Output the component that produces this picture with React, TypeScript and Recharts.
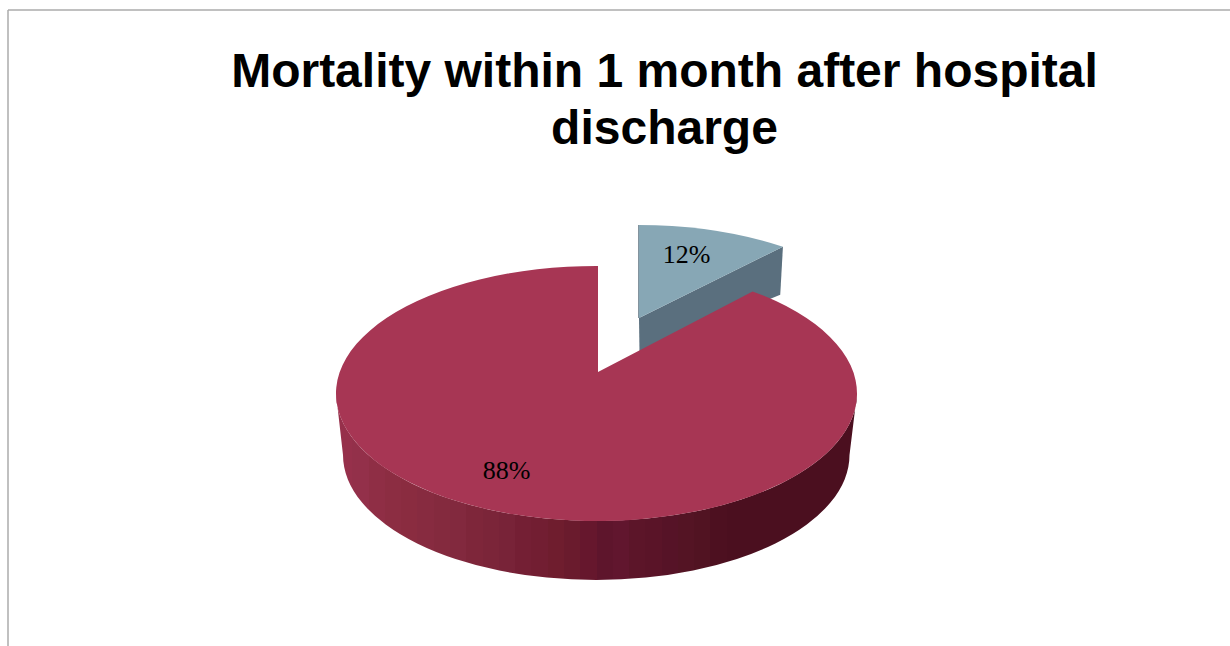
import React from "react";
import { PieChart, Pie } from "recharts";

const categories = ["Died within 1 month", "Survived"];
const percentages = [12, 88];
const titleLines = ["Mortality within 1 month after hospital", "discharge"];

const chartData = categories.map((name, i) => ({ name, value: percentages[i] }));

const RY_RATIO = 127.5 / 260.5;
const looks = [
  { top: "#87A7B5", side: "#5A6F7E", ox: 41, oy: -41, ax: 1.5, ay: -34.5, k: 0.465, labelFrac: 0.72, ndx: -6, ndy: -1 },
  { top: "#A73654", side: "url(#mainSide)", ox: 0, oy: 0, ax: 1.5, ay: -21.5, k: RY_RATIO, labelFrac: 0.76, ndx: -7, ndy: -6 },
];

const bandColors = [
  "#96304B", "#93304A", "#8F2E45", "#8C2D42", "#8A2C40", "#872B40", "#842A3E", "#82293E",
  "#7E263A", "#7B2539", "#782338", "#741F34", "#721E32", "#6F1D2E", "#6A1B2D", "#66172D",
  "#5E152C", "#61162E", "#5C1529", "#5A1428", "#561327", "#541424", "#511322", "#4D1020",
  "#4B0F1F", "#4B0F1F", "#4B0F1F", "#4B0F1F", "#4B0F1F", "#4B0F1F", "#4B0F1F", "#4B0F1F",
];

function ray(C: any, a: number, k: number, rx: number, ry: number, deg: number, A: any) {
  const rad = (deg * Math.PI) / 180;
  const dx = Math.cos(rad);
  const dy = -k * Math.sin(rad);
  const fx = (A.x - C.x) / rx;
  const fy = (A.y - C.y) / ry;
  const gx = dx / rx;
  const gy = dy / ry;
  const aa = gx * gx + gy * gy;
  const bb = 2 * (fx * gx + fy * gy);
  const cc = fx * fx + fy * fy - 1;
  const t = (-bb + Math.sqrt(bb * bb - 4 * aa * cc)) / (2 * aa);
  return { x: A.x + t * dx, y: A.y + t * dy, t, dx, dy };
}

function geometry(cx: number, cy: number, r: number, i: number) {
  const look = looks[i];
  const C = { x: cx + look.ox, y: cy + look.oy };
  const A = { x: C.x + look.ax, y: C.y + look.ay };
  return { look, C, A, rx: r, ry: r * RY_RATIO };
}

function Slice3D(props: any) {
  const { cx, cy, outerRadius, startAngle, endAngle, payload, name } = props;
  const label = name ?? payload?.name;
  const i = categories.indexOf(label);
  const { look, C, A, rx, ry } = geometry(cx, cy, outerRadius, i);
  const p0 = ray(C, 0, look.k, rx, ry, startAngle, A);
  const p1 = ray(C, 0, look.k, rx, ry, endAngle, A);
  const large = Math.abs(endAngle - startAngle) > 180 ? 1 : 0;
  const topPath = `M${A.x},${A.y} L${p0.x},${p0.y} A${rx},${ry} 0 ${large} 1 ${p1.x},${p1.y} Z`;
  let side: string;
  if (i === 0) {
    side = `M${p1.x},${p1.y} L${A.x},${A.y} L${A.x + 0.5},${A.y + 35} L${p1.x - 2.7},${p1.y + 48} Z`;
  } else {
    const lx = C.x - rx;
    const rxp = C.x + rx;
    side = `M${lx},${C.y} L${lx + 7},${C.y + 61.5} A253.25,125 0 0 0 ${rxp - 7.5},${C.y + 61.5} L${rxp},${C.y} A${rx},${ry} 0 0 1 ${lx},${C.y} Z`;
  }
  return (
    <g>
      <path d={side} fill={look.side} />
      {i === 0 && <path d={`M${A.x},${A.y} L${p0.x},${p0.y}`} stroke={look.side} strokeWidth={1.5} fill="none" />}
      <path d={topPath} fill={look.top} />
    </g>
  );
}

function SliceLabel(props: any) {
  const { cx, cy, outerRadius, midAngle, payload, name } = props;
  const label = name ?? payload?.name;
  const i = categories.indexOf(label);
  const { look, C, A, rx, ry } = geometry(cx, cy, outerRadius, i);
  const p = ray(C, 0, look.k, rx, ry, midAngle, A);
  const x = A.x + p.dx * p.t * look.labelFrac + look.ndx;
  const y = A.y + p.dy * p.t * look.labelFrac + look.ndy;
  return (
    <text x={x} y={y} textAnchor="middle" dominantBaseline="central" fontFamily="Liberation Serif" fontSize={26} fill="#000">
      {`${percentages[i]}%`}
    </text>
  );
}

export default function App() {
  return (
    <div style={{ position: "absolute", left: 0, top: 0, width: 1230, height: 646, overflow: "hidden", background: "#fff" }}>
      <PieChart width={1230} height={646} margin={{ top: 0, right: 0, bottom: 0, left: 0 }}>
        <defs>
          <linearGradient id="mainSide" gradientUnits="userSpaceOnUse" x1={336} x2={857} y1={0} y2={0}>
            {bandColors.flatMap((c, i) => [
              <stop key={`${i}a`} offset={i / bandColors.length} stopColor={c} />,
              <stop key={`${i}b`} offset={(i + 1) / bandColors.length} stopColor={c} />,
            ])}
          </linearGradient>
        </defs>
        <line x1={8} y1={10} x2={1230} y2={10} stroke="#ababab" strokeWidth={1.5} />
        <line x1={8} y1={10} x2={8} y2={646} stroke="#ababab" strokeWidth={1.5} />
        <text x={664.5} y={86.5} textAnchor="middle" fontFamily="Liberation Sans" fontWeight="bold" fontSize={48} fill="#000">
          {titleLines[0]}
        </text>
        <text x={664.5} y={143.5} textAnchor="middle" fontFamily="Liberation Sans" fontWeight="bold" fontSize={48} fill="#000">
          {titleLines[1]}
        </text>
        <Pie
          data={chartData}
          dataKey="value"
          nameKey="name"
          cx={596.5}
          cy={393.5}
          outerRadius={260.5}
          innerRadius={0}
          startAngle={90}
          endAngle={-270}
          stroke="none"
          isAnimationActive={false}
          shape={Slice3D}
          inactiveShape={Slice3D}
          label={SliceLabel}
          labelLine={false}
        />
      </PieChart>
    </div>
  );
}
